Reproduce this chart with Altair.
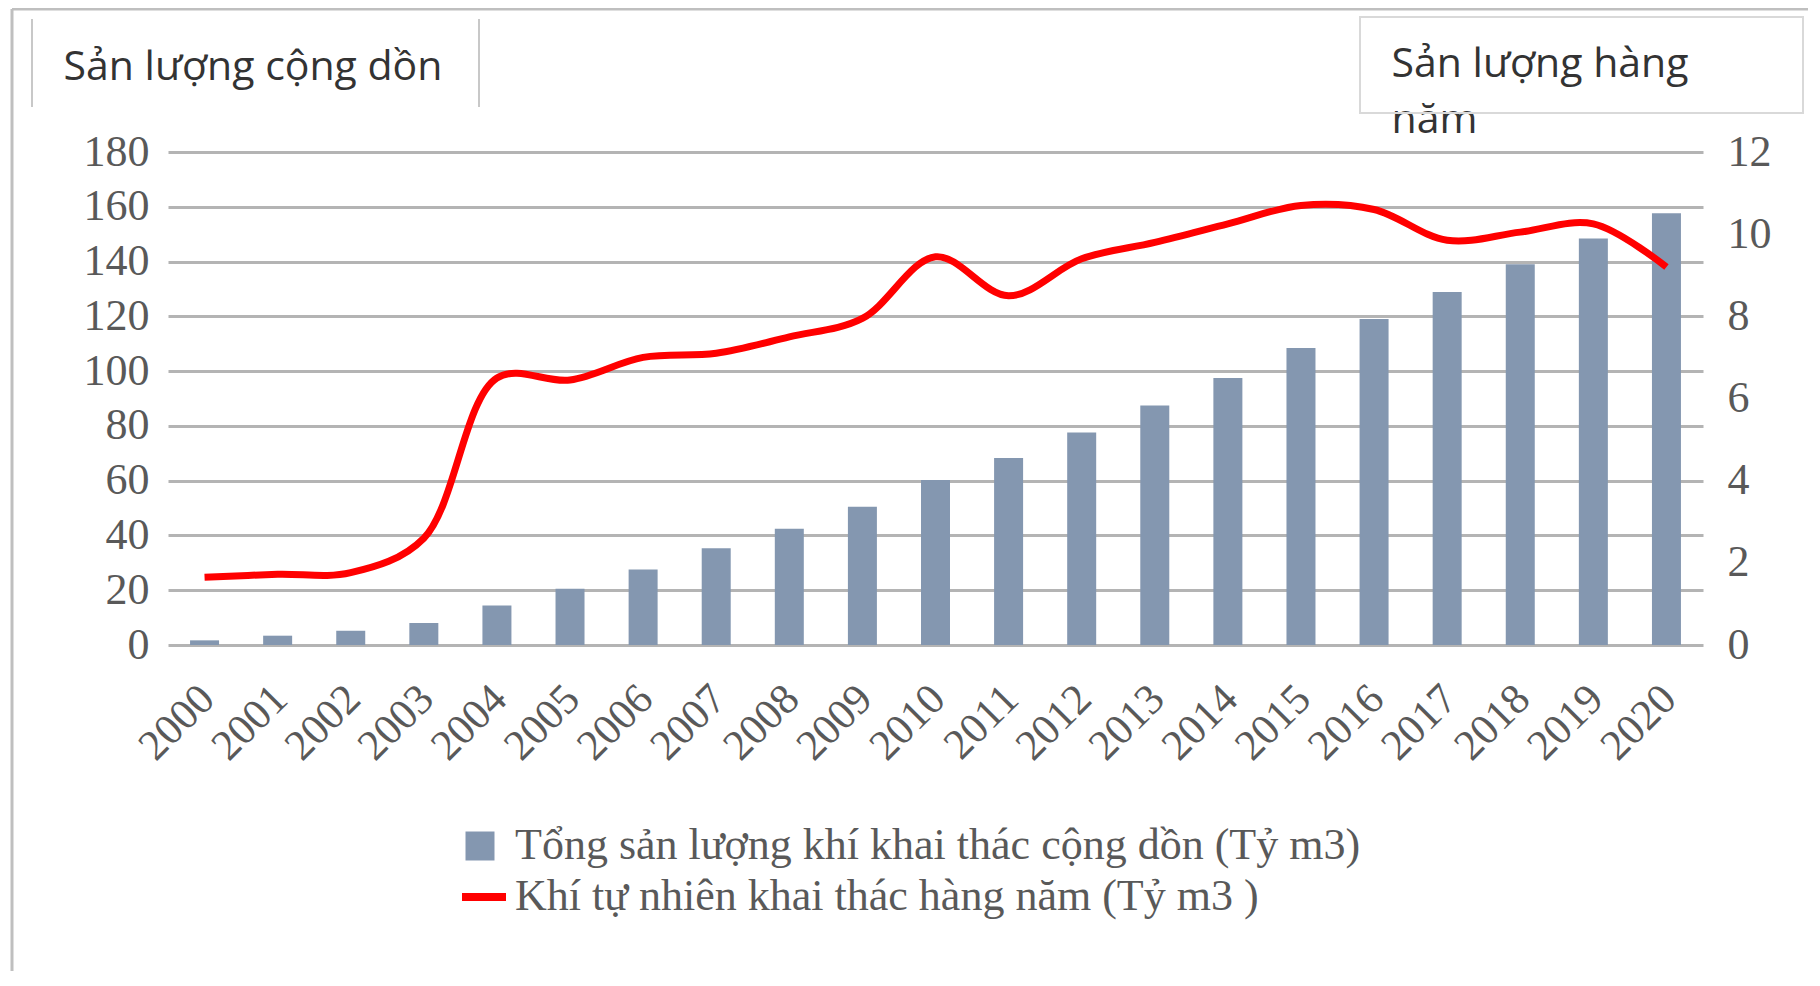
import altair as alt
import pandas as pd

years = [str(y) for y in range(2000, 2021)]
cumulative = [1.7, 3.4, 5.2, 8.0, 14.4, 20.5, 27.6, 35.3, 42.4, 50.5, 60.2,
              68.3, 77.6, 87.4, 97.5, 108.4, 119.0, 128.9, 139.0, 148.4, 157.6]
annual = [1.65, 1.72, 1.76, 2.6, 6.5, 6.45, 7.0, 7.1, 7.5, 7.95, 9.45,
          8.5, 9.4, 9.8, 10.25, 10.7, 10.6, 9.85, 10.05, 10.25, 9.2]
left_ticks = list(range(0, 181, 20))
right_ticks = list(range(0, 13, 2))
bar_name = "Tổng sản lượng khí khai thác cộng dồn (Tỷ m3)"
line_name = "Khí tự nhiên khai thác hàng năm (Tỷ m3 )"
left_title = "Sản lượng cộng dồn"
right_title = ["Sản lượng hàng", "năm"]

BAR_COLOR = "#8497B0"
LINE_COLOR = "#FF0000"
SERIF = "Liberation Serif"
SANS = "Open Sans"
LABEL_COLOR = "#595959"

df = pd.DataFrame({"year": years, "cum": cumulative, "ann": annual,
                   "s1": bar_name, "s2": line_name})

x_enc = alt.X("year:N", title=None,
              scale=alt.Scale(paddingInner=0, paddingOuter=0),
              axis=alt.Axis(labelAngle=-45, labelAlign="right", labelBaseline="top",
                            labelFont=SERIF, labelFontSize=43, labelColor=LABEL_COLOR,
                            labelPadding=32, labelOffset=-12, ticks=False, domain=False,
                            grid=False))

bars = alt.Chart(df).mark_bar(size=29).encode(
    x=x_enc,
    y=alt.Y("cum:Q", scale=alt.Scale(domain=[0, 180], nice=False),
            axis=alt.Axis(orient="left", values=left_ticks, labelFont=SERIF,
                          labelFontSize=44, labelColor=LABEL_COLOR, labelPadding=19,
                          ticks=False, domain=False, grid=True, gridColor="#B4B4B4",
                          gridWidth=3, title=left_title, titleAngle=0,
                          titleAlign="left", titleBaseline="middle", titleX=-105,
                          titleY=-85, titleFont=SANS, titleFontSize=41,
                          titleFontWeight="normal", titleColor="#333333")),
    fill=alt.Fill("s1:N", scale=alt.Scale(domain=[bar_name], range=[BAR_COLOR]),
                  legend=alt.Legend(title=None, orient="none", legendX=290, legendY=672,
                                    padding=0, symbolType="square", symbolSize=841,
                                    symbolStrokeWidth=0, labelFont=SERIF,
                                    labelFontSize=44, labelColor=LABEL_COLOR,
                                    labelOffset=13, labelLimit=1400)),
)

line = alt.Chart(df).mark_line(strokeWidth=7, interpolate="catmull-rom").encode(
    x=x_enc,
    y=alt.Y("ann:Q", scale=alt.Scale(domain=[0, 12], nice=False),
            axis=alt.Axis(orient="right", values=right_ticks, labelFont=SERIF,
                          labelFontSize=44, labelColor=LABEL_COLOR, labelPadding=24,
                          ticks=False, domain=False, grid=False,
                          title=right_title, titleAngle=0, titleAlign="left",
                          titleBaseline="middle", titleX=-312, titleY=-88,
                          titleLineHeight=56, titleFont=SANS, titleFontSize=41,
                          titleFontWeight="normal", titleColor="#333333")),
    stroke=alt.Stroke("s2:N", scale=alt.Scale(domain=[line_name], range=[LINE_COLOR]),
                      legend=alt.Legend(title=None, orient="none", legendX=290, legendY=719,
                                        padding=0, symbolType="stroke", symbolSize=1936,
                                        symbolStrokeWidth=8, labelFont=SERIF,
                                        labelFontSize=44, labelColor=LABEL_COLOR,
                                        labelOffset=5, labelLimit=1400)),
)

one = alt.Data(values=[{}])
frame_top = alt.Chart(one).mark_rule(color="#BFBFBF", strokeWidth=3).encode(
    x=alt.value(-156), x2=alt.value(1660), y=alt.value(-143))
frame_left = alt.Chart(one).mark_rule(color="#BFBFBF", strokeWidth=3).encode(
    x=alt.value(-156), y=alt.value(-143), y2=alt.value(840))
box_l1 = alt.Chart(one).mark_rule(color="#C8C8C8", strokeWidth=2).encode(
    x=alt.value(-136), y=alt.value(-133), y2=alt.value(-45))
box_l2 = alt.Chart(one).mark_rule(color="#C8C8C8", strokeWidth=2).encode(
    x=alt.value(311), y=alt.value(-133), y2=alt.value(-45))
box_r = alt.Chart(one).mark_rect(filled=False, stroke="#D9D9D9", strokeWidth=2).encode(
    x=alt.value(1192), x2=alt.value(1635), y=alt.value(-135), y2=alt.value(-39))

chart = alt.layer(bars, line, frame_top, frame_left, box_l1, box_l2, box_r).resolve_scale(
    y="independent"
).properties(
    width=1535, height=493,
    autosize=alt.AutoSizeParams(type="none"),
    padding={"left": 160, "top": 144, "right": 105, "bottom": 326},
    background="white",
).configure_view(stroke=None)

chart.save("out.html", embed_options={"renderer": "svg", "actions": False})
